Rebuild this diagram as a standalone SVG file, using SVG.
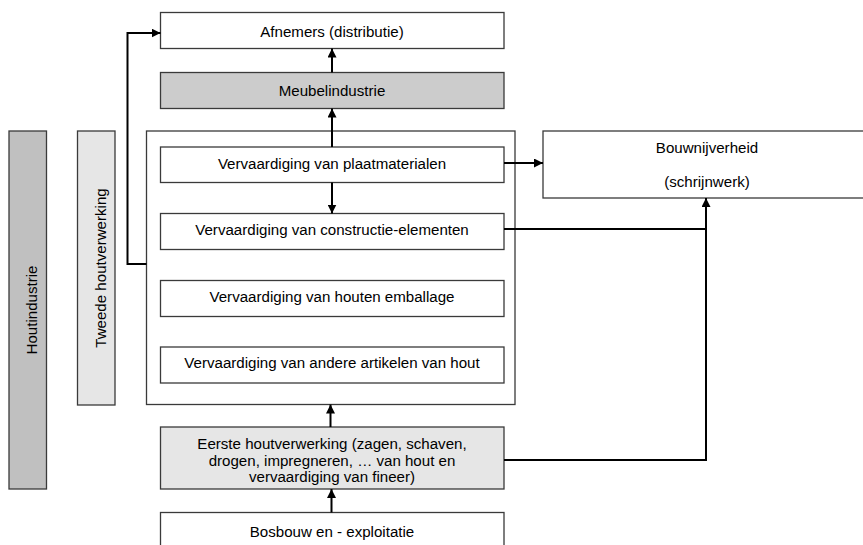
<svg xmlns="http://www.w3.org/2000/svg" width="863" height="545" viewBox="0 0 863 545">
<defs>
<style>
.box{stroke:#3a3a3a;stroke-width:1.3;fill:#ffffff}
.g1{fill:#cccccc}
.g2{fill:#c0c0c0}
.g3{fill:#e6e6e6}
text{font-family:"Liberation Sans",Arial,sans-serif;font-size:15.1px;fill:#000;text-anchor:middle}
.c{fill:none;stroke:#000;stroke-width:2}
</style>
<marker id="ah" viewBox="0 0 10 10" refX="10" refY="5" markerWidth="9" markerHeight="9" markerUnits="userSpaceOnUse" orient="auto">
<path d="M0,0 L10,5 L0,10 z" fill="#000"/>
</marker>
</defs>
<rect width="863" height="545" fill="#ffffff"/>
<g id="houtindustrie"><rect class="box g2" x="9" y="131" width="37.5" height="358"/><text transform="translate(37,310) rotate(-90)">Houtindustrie</text></g>
<g id="tweede"><rect class="box g3" x="77.5" y="131" width="37.5" height="274"/><text transform="translate(106,268) rotate(-90)">Tweede houtverwerking</text></g>
<g id="container"><rect class="box" x="146.5" y="131" width="368.5" height="273.5"/></g>
<g id="afnemers"><rect class="box" x="160.5" y="12.5" width="343.5" height="36"/><text x="332" y="36.5">Afnemers (distributie)</text></g>
<g id="meubel"><rect class="box g1" x="160.5" y="72.5" width="343.5" height="36"/><text x="332" y="95.5">Meubelindustrie</text></g>
<g id="plaat"><rect class="box" x="160.5" y="147" width="343.5" height="35.5"/><text x="332" y="169">Vervaardiging van plaatmaterialen</text></g>
<g id="constructie"><rect class="box" x="160.5" y="213.5" width="343.5" height="36"/><text x="332" y="235">Vervaardiging van constructie-elementen</text></g>
<g id="emballage"><rect class="box" x="160.5" y="280.5" width="343.5" height="36"/><text x="332" y="302">Vervaardiging van houten emballage</text></g>
<g id="andere"><rect class="box" x="160.5" y="347" width="343.5" height="36"/><text x="332" y="367.5">Vervaardiging van andere artikelen van hout</text></g>
<g id="eerste"><rect class="box g3" x="160.5" y="427" width="343.5" height="62"/><text x="332" y="449">Eerste houtverwerking (zagen, schaven,</text><text x="332" y="465.5">drogen, impregneren, … van hout en</text><text x="332" y="482">vervaardiging van fineer)</text></g>
<g id="bosbouw"><rect class="box" x="160.5" y="512.5" width="343.5" height="40"/><text x="332" y="537">Bosbouw en - exploitatie</text></g>
<g id="bouwnijverheid"><rect class="box" x="543" y="131" width="330" height="67"/><text x="707" y="153">Bouwnijverheid</text><text x="707" y="187">(schrijnwerk)</text></g>
<g id="connectors">
<path class="c" d="M332,72.5 V48.5" marker-end="url(#ah)"/>
<path class="c" d="M332,147 V108.5" marker-end="url(#ah)"/>
<path class="c" d="M332,182.5 V213.5" marker-end="url(#ah)"/>
<path class="c" d="M504,163 H543" marker-end="url(#ah)"/>
<path class="c" d="M146.5,264 H127.5 V33 H160.5" marker-end="url(#ah)"/>
<path class="c" d="M504,229 H706"/>
<path class="c" d="M504,460 H706 V198" marker-end="url(#ah)"/>
<path class="c" d="M330.5,427 V404.5" marker-end="url(#ah)"/>
<path class="c" d="M331.5,512.5 V489" marker-end="url(#ah)"/>
</g>
</svg>
